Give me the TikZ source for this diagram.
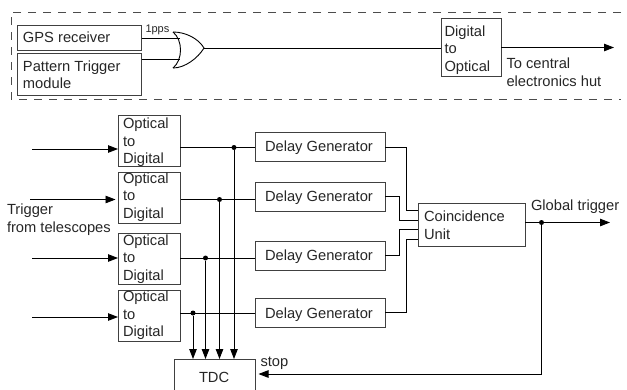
\documentclass[tikz,border=0pt]{standalone}
\usepackage{fontspec}
\setmainfont{Liberation Sans}
\usetikzlibrary{arrows.meta}
\tikzset{
  box/.style={draw=black!75,line width=0.9pt,inner sep=0pt,outer sep=0pt},
  wire/.style={line width=0.9pt,black},
  arr/.style={wire,-{Triangle[length=10pt,width=7.5pt]}},
  lbl/.style={font=\fontsize{14.7}{17.5}\selectfont,inner sep=0pt,outer sep=0pt,align=left,text=black!85,anchor=base west},
  dot/.style={circle,fill=black,inner sep=0pt,minimum size=5pt},
}
\newcommand{\pbox}[5]{\node[box,minimum width=#3pt-#1pt,minimum height=#4pt-#2pt,anchor=north west] (#5) at (#1,#2) {};}
\begin{document}
\begin{tikzpicture}[x=1pt,y=-1pt]
\useasboundingbox (0,0) rectangle (627,389);
% top section
\draw[line width=0.8pt,black!70,dash pattern=on 8pt off 7pt] (621,12) -- (11,12) -- (11,99) -- (621,99);
\pbox{17}{25}{141.5}{50}{gps}
\pbox{17}{53.5}{141.5}{95}{ptm}
\node[lbl] (gpst) at (23,42.7) {GPS receiver};
\node[lbl] (ptmt) at (23,88.7) {Pattern Trigger\\module};
\node[lbl,font=\fontsize{11}{13}\selectfont] (pps) at (145.5,32.7) {1pps};
% OR gate
\coordinate (ora) at (173,32);
\coordinate (orb) at (173,68);
\coordinate (orc) at (204,48);
\draw[wire] (ora) .. controls (185,32) and (198,38) .. (orc) .. controls (198,58) and (185,68) .. (orb);
\draw[wire] (ora) .. controls (183,40) and (183,60) .. (orb);
\coordinate (ori) at (179.5,38);
\coordinate (orj) at (179.5,59);
\draw[wire] (gps.east |- ori) -- (ori);
\draw[wire] (ptm.east |- orj) -- (orj);
\pbox{441}{18}{501}{76.5}{d2o}
\node[lbl] (d2ot) at (444.5,71) {Digital\\to\\Optical};
\draw[wire] (orc) -- (d2o.west |- orc);
\coordinate (hut) at (614,47.5);
\draw[arr] (d2o.east |- hut) -- (hut);
\node[lbl] (hutt) at (506.5,86) {To central\\electronics hut};
% optical to digital
\pbox{118}{115}{180}{166.5}{oa}
\pbox{118}{172}{180}{223}{ob}
\pbox{118}{233}{180}{284.5}{oc}
\pbox{118}{290}{180}{341.5}{od}
\node[lbl] (oat) at (123,163.7) {Optical\\to\\Digital};
\node[lbl] (obt) at (123,218.3) {Optical\\to\\Digital};
\node[lbl] (oct) at (123,280) {Optical\\to\\Digital};
\node[lbl] (odt) at (123,336.7) {Optical\\to\\Digital};
\coordinate (ia) at (32,149);
\coordinate (ib) at (30,199.5);
\coordinate (ic) at (32,258);
\coordinate (id) at (32,317);
\coordinate (ibe) at (115.5,199.5);
\draw[arr] (ia) -- (oa.west |- ia);
\draw[arr] (ib) -- (ibe);
\draw[arr] (ic) -- (oc.west |- ic);
\draw[arr] (id) -- (od.west |- id);
\node[lbl] (trig) at (7,232) {Trigger\\from telescopes};
% delay generators
\pbox{255}{132}{385}{161}{da}
\pbox{255}{182}{385}{211}{db}
\pbox{255}{241}{385}{270}{dc}
\pbox{255}{298}{385}{327}{dd}
\node[lbl] (dat) at (265,151.8) {Delay Generator};
\node[lbl] (dbt) at (265,201.6) {Delay Generator};
\node[lbl] (dct) at (265,260.8) {Delay Generator};
\node[lbl] (ddt) at (265,318) {Delay Generator};
\coordinate (ra) at (180,147.5);
\coordinate (rb) at (181,199.5);
\coordinate (rc) at (180,258);
\coordinate (rd) at (180,313);
\draw[wire] (ra) -- (da.west |- ra);
\draw[wire] (rb) -- (db.west |- rb);
\draw[wire] (rc) -- (dc.west |- rc);
\draw[wire] (rd) -- (dd.west |- rd);
% TDC
\pbox{174.5}{359}{255}{394}{tdc}
\node[lbl] (tdct) at (199,382.7) {TDC};
\node[dot] (ja) at (234,147.5) {};
\node[dot] (jb) at (219.5,199.5) {};
\node[dot] (jc) at (205.5,258) {};
\node[dot] (jd) at (193,313) {};
\draw[arr] (ja) -- (ja |- tdc.north);
\draw[arr] (jb) -- (jb |- tdc.north);
\draw[arr] (jc) -- (jc |- tdc.north);
\draw[arr] (jd) -- (jd |- tdc.north);
% coincidence
\pbox{418}{203}{525}{246}{cu}
\node[lbl] (cut) at (424,239) {Coincidence\\Unit};
\coordinate (ca) at (418,210.5);
\coordinate (cb) at (418,220);
\coordinate (cc) at (418,229);
\coordinate (cd) at (418,239);
\draw[wire] (385,147) -| (406,210.5) -- (ca);
\draw[wire] (385,196) -| (399.5,220) -- (cb);
\draw[wire] (385,255) -| (399.5,229) -- (cc);
\draw[wire] (385,312.5) -| (406,239) -- (cd);
\coordinate (gt) at (610,222.5);
\draw[arr] (cu.east |- gt) -- (gt);
\node[lbl] (gtt) at (531,210) {Global trigger};
\node[dot] (je) at (541.5,222.5) {};
\coordinate (tr) at (541.5,374);
\coordinate (tip) at (258.5,374);
\draw[wire] (je) -- (tr);
\draw[arr] (tr) -- (tip);
\node[lbl] (stopt) at (260.5,366) {stop};
\end{tikzpicture}
\end{document}
